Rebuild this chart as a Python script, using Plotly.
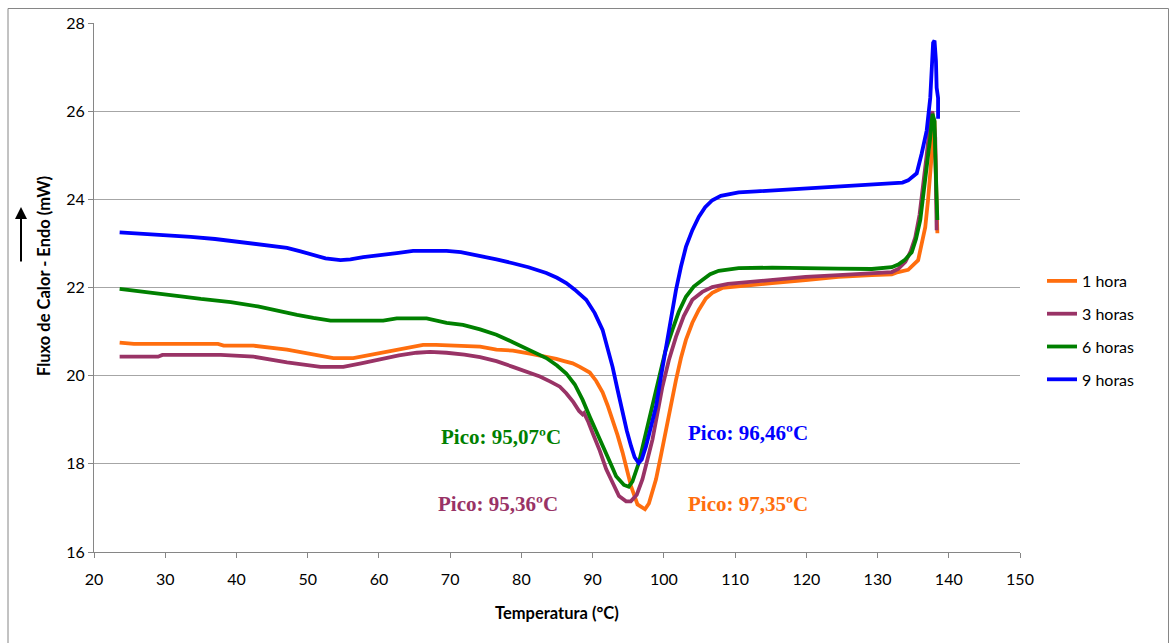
import plotly.graph_objects as go

# ---------------- data ----------------
x_1h = [23.6, 25.6, 30, 37.4, 38.2, 42.4, 47.1, 50.8, 53.6, 56.4, 58.5, 61.1, 63, 64.8, 66.2, 68, 72.3, 74.2,
        76.5, 78.8, 81.2, 83.5, 84.9, 86, 87.2, 88.2, 89.6, 90.5, 91.4, 92.1, 92.8, 93.5, 94.2, 94.8, 95.4,
        96.3, 97.35, 97.9, 98.4, 98.9, 99.6, 100.3, 101, 101.7, 102.4, 103.1, 104, 104.9, 105.9, 106.8, 108.2,
        110.5, 115.2, 119.9, 124.5, 129.2, 132, 132.9, 134.3, 135.7, 136.2, 136.7, 137.1, 137.4, 137.8, 138,
        138.2, 138.4]
y_1h = [20.75, 20.72, 20.72, 20.72, 20.68, 20.68, 20.59, 20.47, 20.4, 20.4, 20.46, 20.54, 20.6, 20.66, 20.7,
        20.7, 20.68, 20.66, 20.59, 20.57, 20.5, 20.43, 20.38, 20.33, 20.28, 20.2, 20.07, 19.88, 19.62, 19.33,
        19.0, 18.65, 18.26, 17.87, 17.49, 17.08, 16.97, 17.1, 17.35, 17.65, 18.2, 18.78, 19.35, 19.9, 20.4,
        20.81, 21.2, 21.49, 21.75, 21.88, 21.99, 22.03, 22.1, 22.17, 22.24, 22.28, 22.3, 22.35, 22.4, 22.62,
        22.95, 23.37, 24.0, 24.66, 25.56, 25.78, 24.5, 23.23]

x_3h = [23.6, 29, 29.6, 37.8, 42.4, 47.1, 51.8, 55, 57.5, 60.2, 62.8, 65.3, 67.2, 69.5, 72, 74.2, 76.5, 78.8,
        80.7, 82.6, 84, 85.4, 86.3, 87.3, 88.1, 88.6, 88.8, 89.4, 90, 91, 91.9, 92.8, 93.7, 94.7, 95.36, 96.2,
        97, 97.7, 98.4, 99.1, 99.8, 100.7, 101.7, 102.8, 104, 105.4, 106.8, 109, 112, 115.2, 119.9, 124.5,
        129.2, 132, 132.9, 133.9, 134.6, 135.3, 135.9, 136.4, 136.9, 137.4, 137.7, 138.1, 138.2, 138.3]
y_3h = [20.43, 20.43, 20.47, 20.47, 20.43, 20.3, 20.2, 20.2, 20.28, 20.38, 20.46, 20.52, 20.54, 20.52, 20.48,
        20.42, 20.33, 20.2, 20.1, 19.98, 19.87, 19.75, 19.6, 19.4, 19.2, 19.12, 19.15, 18.95, 18.7, 18.3, 17.88,
        17.55, 17.27, 17.15, 17.15, 17.3, 17.65, 18.1, 18.55, 19.15, 19.75, 20.35, 20.88, 21.35, 21.72, 21.9,
        22.01, 22.08, 22.13, 22.17, 22.24, 22.28, 22.33, 22.35, 22.42, 22.58, 22.8, 23.14, 23.65, 24.27, 25.0,
        25.78, 26.0, 25.4, 23.46, 23.3]

x_6h = [23.6, 27, 30, 32.2, 35, 39.2, 43, 46.2, 48.5, 50.8, 53.2, 57, 60.6, 62.5, 66.7, 69.5, 71.8, 74.2, 76.5,
        78.8, 80.2, 82, 83.5, 85, 86.3, 87.5, 88.6, 89.6, 90.8, 91.9, 92.6, 93.3, 94.4, 95.07, 95.6, 96.5, 97.2,
        97.9, 98.6, 99.3, 100.2, 101.2, 102.1, 103.1, 104.2, 105.4, 106.5, 107.7, 110.5, 115.2, 120, 124.5,
        129.2, 132, 132.9, 133.8, 134.8, 135.4, 136, 136.7, 137.4, 137.7, 138, 138.1, 138.4]
y_6h = [21.97, 21.91, 21.86, 21.8, 21.74, 21.67, 21.57, 21.45, 21.38, 21.31, 21.25, 21.25, 21.25, 21.3, 21.3,
        21.2, 21.15, 21.05, 20.93, 20.76, 20.65, 20.52, 20.4, 20.23, 20.05, 19.8, 19.45, 19.07, 18.65, 18.26,
        17.98, 17.72, 17.52, 17.48, 17.6, 18.03, 18.5, 19.0, 19.5, 19.98, 20.55, 21.04, 21.45, 21.79, 22.02,
        22.17, 22.3, 22.38, 22.44, 22.45, 22.45, 22.43, 22.42, 22.46, 22.52, 22.62, 22.8, 23.1, 23.53, 24.43,
        25.4, 25.94, 25.78, 25.04, 23.53]

x_9h = [23.6, 27, 30, 33.6, 37, 40.6, 44, 47.1, 49, 50.8, 52.5, 54.6, 56, 57.8, 60.2, 62.5, 64.8, 67, 69.5,
        71.5, 74.2, 76.5, 78.8, 81, 83.5, 85, 86.3, 87.5, 89.1, 90.3, 91.4, 92.1, 92.8, 93.5, 94.2, 94.8, 95.4,
        95.9, 96.46, 96.9, 97.5, 98.2, 98.9, 99.6, 100.3, 101, 101.7, 102.4, 103.1, 104, 104.9, 105.8, 106.8,
        108, 110.5, 113, 115.2, 117.5, 119.9, 122, 124.5, 127, 129.2, 131, 132.5, 133.5, 134.3, 135, 135.5,
        136.2, 136.9, 137.4, 137.6, 137.8, 138.0, 138.2, 138.3, 138.5, 138.5]
y_9h = [23.25, 23.22, 23.2, 23.15, 23.1, 23.03, 22.97, 22.9, 22.82, 22.73, 22.66, 22.62, 22.64, 22.69, 22.73,
        22.78, 22.83, 22.84, 22.83, 22.8, 22.72, 22.64, 22.55, 22.46, 22.33, 22.22, 22.1, 21.95, 21.72, 21.42,
        21.04, 20.65, 20.2, 19.68, 19.16, 18.75, 18.4, 18.15, 18.02, 18.1, 18.4, 18.85, 19.3, 19.98, 20.66,
        21.33, 21.94, 22.47, 22.92, 23.3, 23.6, 23.82, 23.98, 24.08, 24.16, 24.18, 24.2, 24.22, 24.25, 24.27,
        24.29, 24.32, 24.34, 24.35, 24.36, 24.38, 24.43, 24.52, 24.59, 25.04, 25.56, 26.3, 27.14, 27.55, 27.6,
        27.14, 26.53, 26.3, 25.83]

series_names = ["1 hora", "3 horas", "6 horas", "9 horas"]
series_colors = ["#FF6E0E", "#993366", "#008000", "#0000FF"]

peak_texts = ["Pico: 97,35ºC", "Pico: 95,36ºC", "Pico: 95,07ºC", "Pico: 96,46ºC"]
peak_pos_x = [111.8, 76.7, 77.2, 111.8]
peak_pos_y = [17.08, 17.08, 18.6, 18.71]

x_ticks = list(range(20, 151, 10))
y_ticks = list(range(16, 29, 2))

# ---------------- figure ----------------
fig = go.Figure()
data = [(x_1h, y_1h), (x_3h, y_3h), (x_6h, y_6h), (x_9h, y_9h)]
for (xs, ys), name, col in zip(data, series_names, series_colors):
    fig.add_trace(go.Scatter(x=xs, y=ys, mode="lines", name=name, legendgroup=name,
                             line=dict(color=col, width=3.8)))

for t, px, py, col in zip(peak_texts, peak_pos_x, peak_pos_y, series_colors):
    fig.add_annotation(x=px, y=py, text="<b>" + t + "</b>", showarrow=False,
                       xanchor="center", yanchor="middle",
                       font=dict(family="Liberation Serif", size=21, color=col))

L, R, T, B = 94, 150, 23, 91
W, H = 1170, 643
pw, ph = W - L - R, H - T - B

def px_x(p):
    return (p - L) / pw

def px_y(p):
    return (H - B - p) / ph

# y axis title
fig.add_annotation(xref="paper", yref="paper", x=px_x(44), y=px_y(276), text="<b>Fluxo de Calor - Endo (mW)</b>",
                   textangle=-90, showarrow=False, xanchor="center", yanchor="middle",
                   font=dict(family="Lato", size=16.5, color="black"))
# x axis title
fig.add_annotation(xref="paper", yref="paper", x=px_x(557), y=px_y(613), text="<b>Temperatura (°C)</b>",
                   showarrow=False, xanchor="center", yanchor="middle",
                   font=dict(family="Lato", size=16.5, color="black"))
# arrow
fig.add_annotation(xref="paper", yref="paper", x=px_x(21), y=px_y(207), text="", showarrow=True,
                   ax=0, ay=56, arrowhead=2, arrowsize=1.2, arrowwidth=2, arrowcolor="black")

# outer border
fig.add_shape(type="rect", xref="paper", yref="paper", x0=px_x(8), x1=px_x(1168.5), y0=px_y(660), y1=px_y(8.5),
              line=dict(color="#868686", width=1), fillcolor="rgba(0,0,0,0)", layer="below")

fig.update_layout(
    width=W, height=H,
    margin=dict(l=L, r=R, t=T, b=B),
    paper_bgcolor="white", plot_bgcolor="white",
    font=dict(family="Lato", size=16, color="black"),
    showlegend=True,
    legend=dict(x=px_x(1042), y=px_y(264), xanchor="left", yanchor="top", tracegroupgap=9,
                font=dict(family="Lato", size=16, color="black"), bgcolor="rgba(0,0,0,0)"),
    xaxis=dict(range=[20, 150], tickvals=x_ticks, showgrid=False, zeroline=False, showline=True,
               linecolor="#868686", linewidth=1, ticks="outside", ticklen=5, tickcolor="#868686",
               ticklabelstandoff=8,
               tickfont=dict(family="Lato", size=16, color="black")),
    yaxis=dict(range=[16, 28], tickvals=y_ticks, showgrid=True, gridcolor="#A6A6A6", gridwidth=1,
               zeroline=False, showline=True, linecolor="#868686", linewidth=1, ticks="outside", ticklen=5,
               tickcolor="#868686", tickfont=dict(family="Lato", size=16, color="black")),
)

fig.write_html("out.html")
